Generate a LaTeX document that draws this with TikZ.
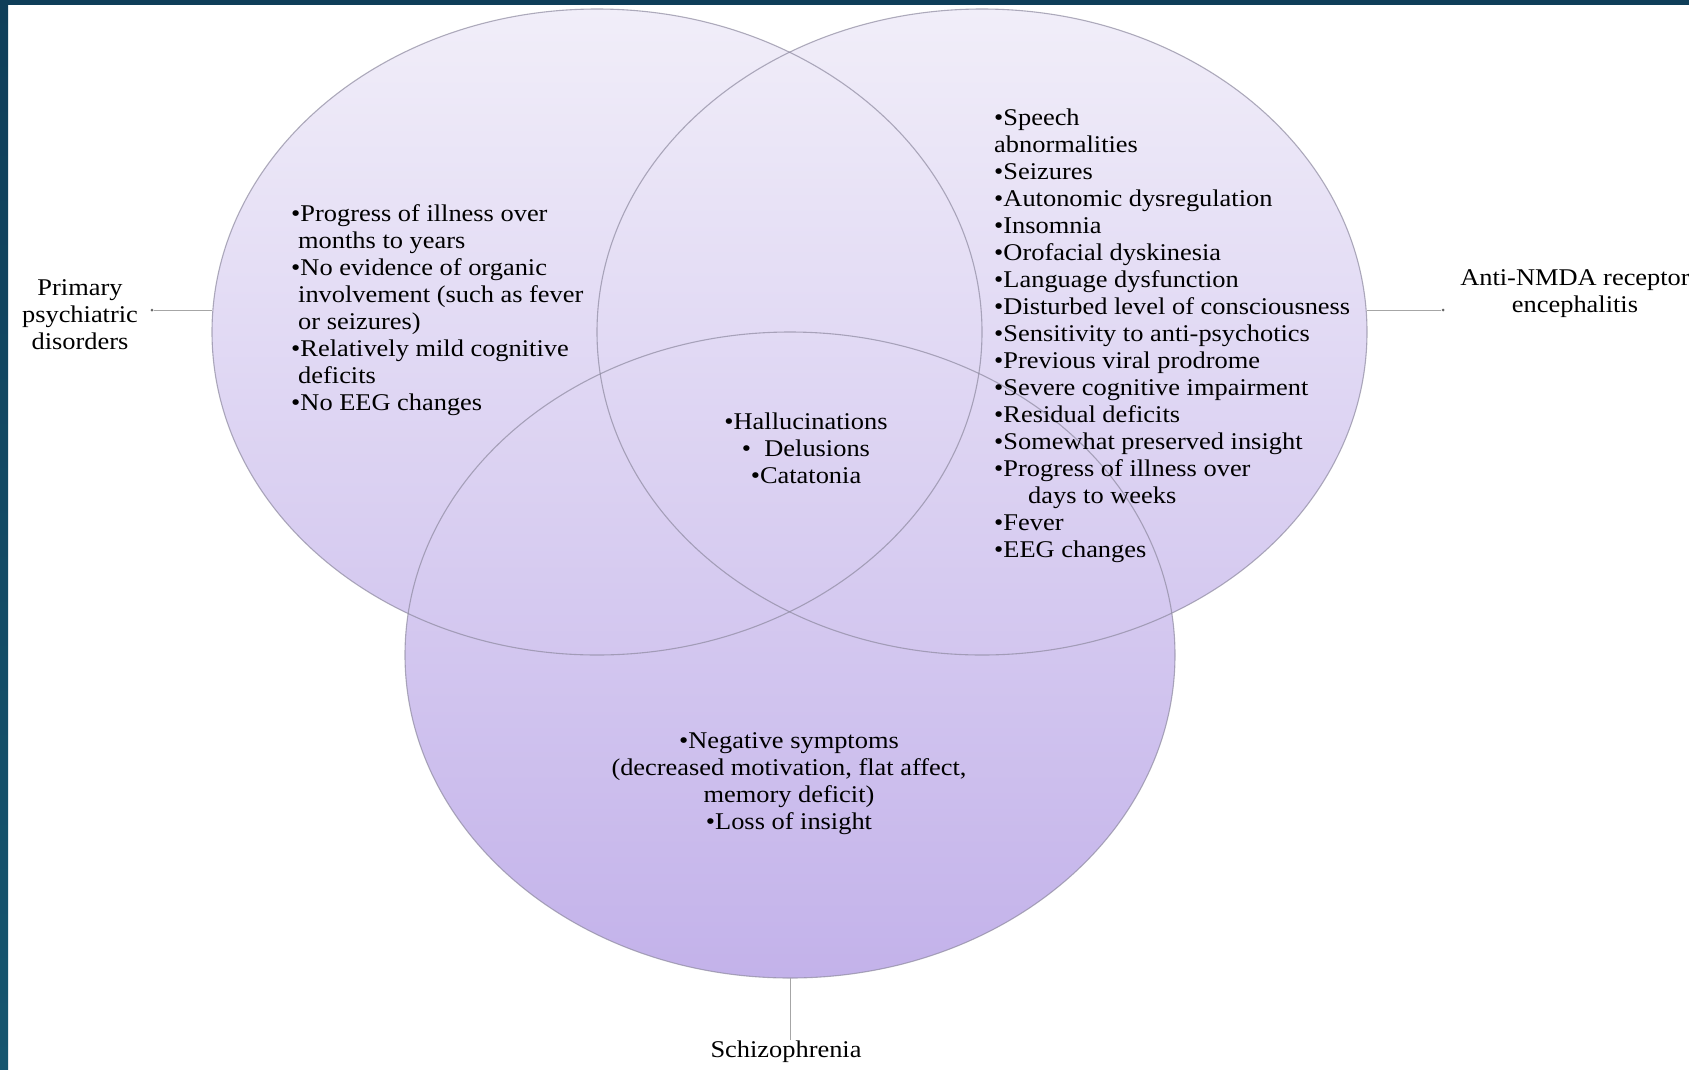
\documentclass[tikz,border=0pt]{standalone}
\usepackage{fontspec}
\setmainfont{Liberation Serif}[FakeStretch=1.1]
\usetikzlibrary{shapes.geometric}
\definecolor{frameA}{HTML}{0F3E59}
\definecolor{frameB}{HTML}{16566F}
\definecolor{vtop}{HTML}{F1EEF9}
\definecolor{vbot}{HTML}{C3B2EA}
\definecolor{vline}{HTML}{8E8AA0}
\begin{document}
\begin{tikzpicture}[x=1pt,y=-1pt,
  venn/.style={ellipse, minimum width=770pt, minimum height=646pt, inner sep=0pt, outer sep=0pt, draw=vline, draw opacity=0.7, line width=1.1pt},
  txt/.style={inner sep=0pt, font=\fontsize{24}{27}\selectfont, text=black},
  conn/.style={draw=black!35, line width=1pt},
  tipdot/.style={circle, fill=black!60, inner sep=0pt, minimum size=3pt}]
\fill[white] (0,0) rectangle (1689,1069);
\useasboundingbox (0,0) rectangle (1689,1069);
% shaded union of the three sets
\shade[top color=vtop, bottom color=vbot]
  (597,332) ellipse [x radius=385, y radius=323]
  (982,332) ellipse [x radius=385, y radius=323]
  (790,655) ellipse [x radius=385, y radius=323];
\node[venn] (A) at (597,332) {};
\node[venn] (B) at (982,332) {};
\node[venn] (C) at (790,655) {};
% texts
\node[txt, anchor=north west, align=left] (llist) at (291,201) {\rule{0pt}{20pt}•Progress of illness over\\
\hspace*{7pt}months to years\\
•No evidence of organic\\
\hspace*{7pt}involvement (such as fever\\
\hspace*{7pt}or seizures)\\
•Relatively mild cognitive\\
\hspace*{7pt}deficits\\
•No EEG changes};
\node[txt, anchor=north west, align=left] (rlist) at (994,105) {\rule{0pt}{20pt}•Speech\\
abnormalities\\
•Seizures\\
•Autonomic dysregulation\\
•Insomnia\\
•Orofacial dyskinesia\\
•Language dysfunction\\
•Disturbed level of consciousness\\
•Sensitivity to anti-psychotics\\
•Previous viral prodrome\\
•Severe cognitive impairment\\
•Residual deficits\\
•Somewhat preserved insight\\
•Progress of illness over\\
\hspace*{34pt}days to weeks\\
•Fever\\
•EEG changes};
\node[txt, anchor=north, align=center] (clist) at (806,409) {\rule{0pt}{20pt}•Hallucinations\\
•\ \ Delusions\\
•Catatonia};
\node[txt, anchor=north, align=center] (blist) at (789,728) {\rule{0pt}{20pt}•Negative symptoms\\
(decreased motivation, flat affect,\\
memory deficit)\\
•Loss of insight};
% labels
\node[txt, anchor=north, align=center] (pri) at (80,275) {\rule{0pt}{20pt}Primary\\psychiatric\\disorders};
\node[txt, anchor=north, align=center] (nmda) at (1575,265) {\rule{0pt}{20pt}Anti-NMDA receptor\\encephalitis};
\node[txt, anchor=base] (schz) at (786,1057) {Schizophrenia};
% connectors
\node[tipdot] (pd) at (152,310) {};
\node[tipdot] (ad) at (1443,310) {};
\draw[conn] (pd) -- (pd -| A.west);
\draw[conn] (pd -| B.east) -- (ad);
\draw[conn] (C.south) -- (C.south |- schz.north);
% frame
\fill[frameA] (0,0) rectangle (1689,5);
\shade[top color=frameA, bottom color=frameB] (0,0) rectangle (8,1069);
\end{tikzpicture}
\end{document}
